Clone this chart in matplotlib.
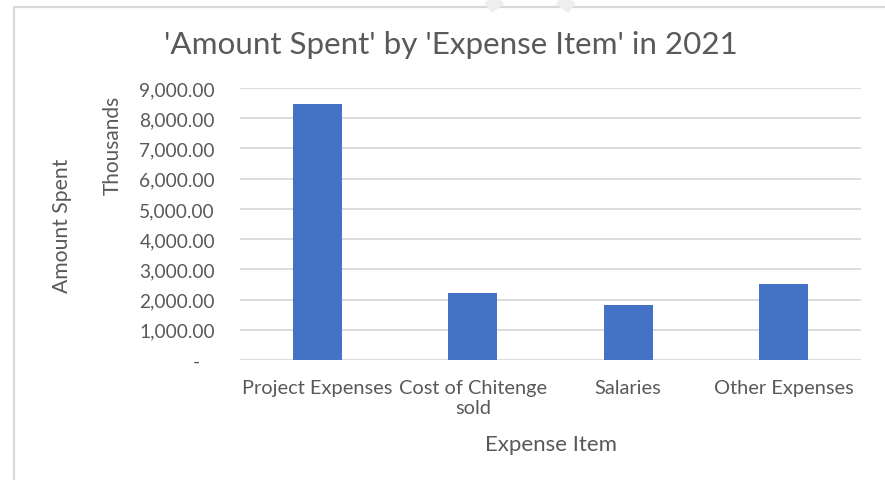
import matplotlib
matplotlib.use('Agg')
import matplotlib.pyplot as plt
from matplotlib.patches import Rectangle
from matplotlib.lines import Line2D
from matplotlib.ticker import FuncFormatter

items = ['Project Expenses', 'Cost of Chitenge\nsold', 'Salaries', 'Other Expenses']
amount_thousands = [8480, 2220, 1830, 2520]
yticks = [0, 1000, 2000, 3000, 4000, 5000, 6000, 7000, 8000, 9000]

text_color = '#595959'
grid_color = '#D9D9D9'
bar_color = '#4472C4'

plt.rcParams['font.family'] = ['Lato', 'DejaVu Sans']

W, H = 885, 481
fig = plt.figure(figsize=(W / 100, H / 100), dpi=100)

# chart frame, runs off the right and bottom edges
fig.patches.append(Rectangle((14 / W, -0.1), 1.2, 1 - 8 / H + 0.1,
                             transform=fig.transFigure, fill=False,
                             edgecolor=grid_color, linewidth=1.6))
# faint watermark strokes poking in at the top
for x0, x1 in ((488, 506), (572, 554)):
    fig.lines.append(Line2D([x0 / W, x1 / W], [1 - 9 / H, 1 + 4 / H],
                            transform=fig.transFigure, color='#EEEEEE',
                            linewidth=9, solid_capstyle='butt'))

ax = fig.add_axes([240 / W, 1 - 361 / H, 621 / W, 272 / H])
x = range(len(items))
ax.bar(x, amount_thousands, width=0.316, color=bar_color, zorder=3)

ax.set_xlim(-0.5, len(items) - 0.5)
ax.set_ylim(0, 9000)
ax.set_yticks(yticks)
ax.yaxis.set_major_formatter(FuncFormatter(
    lambda v, p: '-   ' if v == 0 else f'{v:,.2f}'))
ax.set_xticks(list(x))
ax.set_xticklabels(items, linespacing=1.15)

ax.grid(axis='y', color=grid_color, linewidth=1.3, zorder=0)
for s in ax.spines.values():
    s.set_visible(False)
ax.tick_params(length=0, labelcolor=text_color)
ax.tick_params(axis='y', pad=18, labelsize=13.8)
ax.tick_params(axis='x', pad=14, labelsize=14.4)
for lbl in ax.get_xticklabels():
    lbl.set_verticalalignment('top')

fig.text(451 / W, 1 - 45 / H, "'Amount Spent' by 'Expense Item' in 2021",
         ha='center', va='center', fontsize=22.6, color=text_color)
fig.text(551 / W, 1 - 445 / H, 'Expense Item', ha='center', va='center',
         fontsize=16, color=text_color)
fig.text(62 / W, 1 - 226 / H, 'Amount Spent', ha='center', va='center',
         rotation=90, fontsize=15.2, color=text_color)
fig.text(113 / W, 1 - 145 / H, 'Thousands', ha='center', va='center',
         rotation=90, fontsize=15, color=text_color)

fig.savefig('out.png', dpi=100)
